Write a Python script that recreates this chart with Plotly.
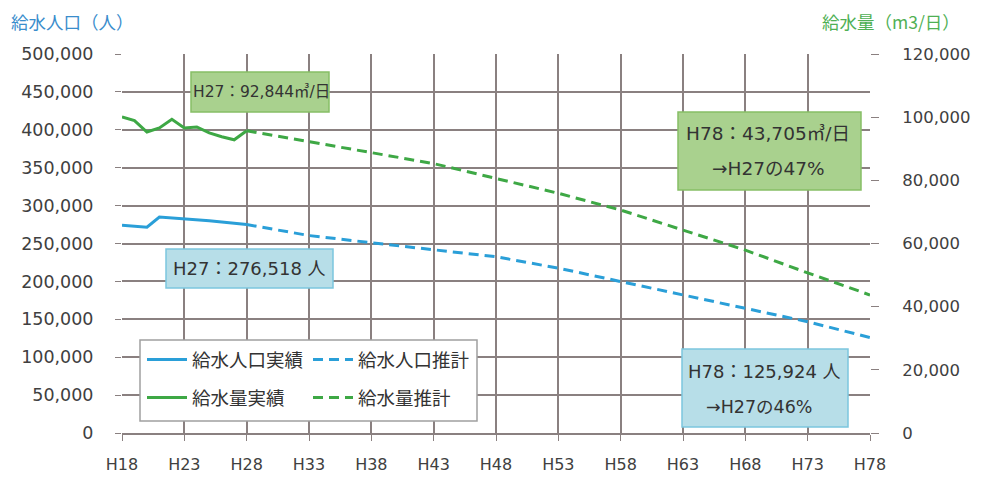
import plotly.graph_objects as go

# ---- data ----
years_actual = [18, 19, 20, 21, 22, 23, 24, 25, 26, 27, 28]
pop_actual = [274000, 273000, 271500, 285000, 284000, 283000, 281500, 280000, 278300, 276518, 275000]
water_actual = [100100, 98900, 95300, 96600, 99300, 96600, 96900, 95000, 93800, 92844, 95700]

years_proj = [28, 33, 38, 43, 48, 53, 58, 63, 68, 73, 78]
pop_proj = [275000, 260500, 251000, 242000, 232500, 217500, 200000, 182000, 164500, 146800, 125924]
water_proj = [95700, 92300, 88800, 85300, 80600, 75900, 70600, 64300, 57900, 50700, 43705]

x_ticks = [18, 23, 28, 33, 38, 43, 48, 53, 58, 63, 68, 73, 78]
x_tick_labels = ["H" + str(v) for v in x_ticks]

BLUE = "#2A9FD8"
GREEN = "#3EA845"
NUM_FONT = "DejaVu Sans"
JP_FONT = "Noto Sans CJK JP"
TXT = "#404040"
GRID = "#8a8080"

# page offset (body margin) and plot area in reference pixels
OFF = 8
RL, RR, RT, RB = 122, 870, 54, 433
W, H = 982, 478


def px(x):
    return (x - RL) / (RR - RL)


def py(y):
    return (RB - y) / (RB - RT)


fig = go.Figure()
fig.add_trace(go.Scatter(x=years_actual, y=pop_actual, mode="lines", name="給水人口実績",
                         line=dict(color=BLUE, width=3), legend="legend", legendgroup="a"))
fig.add_trace(go.Scatter(x=years_actual, y=water_actual, mode="lines", name="給水量実績", yaxis="y2",
                         line=dict(color=GREEN, width=3), legend="legend", legendgroup="b"))
fig.add_trace(go.Scatter(x=years_proj, y=pop_proj, mode="lines", name="給水人口推計",
                         line=dict(color=BLUE, width=3, dash="10px,6px"), legend="legend2", legendgroup="c"))
fig.add_trace(go.Scatter(x=years_proj, y=water_proj, mode="lines", name="給水量推計", yaxis="y2",
                         line=dict(color=GREEN, width=3, dash="10px,6px"), legend="legend2", legendgroup="d"))

shapes = []
annotations = []

# legend box
shapes.append(dict(type="rect", xref="paper", yref="paper", x0=px(140), x1=px(477), y0=py(421), y1=py(340),
                   line=dict(color="#a0a0a0", width=1.5), fillcolor="white", layer="above"))


def box(x0, x1, y0, y1, fill, border):
    shapes.append(dict(type="rect", xref="paper", yref="paper", x0=px(x0), x1=px(x1), y0=py(y1), y1=py(y0),
                       line=dict(color=border, width=1.5), fillcolor=fill, layer="above"))


def text(xc, yc, s, size=16):
    annotations.append(dict(xref="paper", yref="paper", x=px(xc), y=py(yc), text=s, showarrow=False,
                            xanchor="center", yanchor="middle",
                            font=dict(family=NUM_FONT + ", " + JP_FONT, size=size, color="#333333")))


G_FILL, G_BORDER = "#A9D18E", "#86BE66"
B_FILL, B_BORDER = "#B7DEE8", "#7CC6DE"

box(191, 329, 72, 112, G_FILL, G_BORDER)
text(261, 92, "H27：92,844㎥/日", 15.5)

box(678, 861, 112, 190, G_FILL, G_BORDER)
text(768, 133, "H78：43,705㎥/日", 18.5)
text(768, 168, "→H27の47%", 18.5)

box(166, 333, 249, 288, B_FILL, B_BORDER)
text(249, 268, "H27：276,518 人", 18)

box(682, 848, 349, 427, B_FILL, B_BORDER)
text(764, 371, "H78：125,924 人", 18)
text(759, 407, "→H27の46%", 17.5)

# axis titles
annotations.append(dict(xref="paper", yref="paper", x=px(9), y=py(22), text="給水人口（人）", showarrow=False,
                        xanchor="left", yanchor="middle",
                        font=dict(family=JP_FONT, size=17.5, color="#3A8DCC")))
annotations.append(dict(xref="paper", yref="paper", x=px(962), y=py(21), text="給水量（m3/日）", showarrow=False,
                        xanchor="right", yanchor="middle",
                        font=dict(family=JP_FONT, size=17.5, color="#4FB054")))

legend_common = dict(orientation="v", bgcolor="rgba(0,0,0,0)", borderwidth=0, tracegroupgap=11,
                     font=dict(family=JP_FONT, size=18.5, color="#333333"), xanchor="left", yanchor="top",
                     itemwidth=40)

fig.update_layout(
    width=W, height=H,
    margin=dict(l=RL - OFF, r=W - (RR - OFF), t=RT - OFF, b=H - (RB - OFF), autoexpand=False),
    paper_bgcolor="white", plot_bgcolor="white",
    showlegend=True,
    legend=dict(x=px(142), y=py(341), **legend_common),
    legend2=dict(x=px(308), y=py(341), **legend_common),
    xaxis=dict(range=[18, 78], tickvals=x_ticks, ticktext=x_tick_labels, automargin=False,
               showgrid=True, gridcolor=GRID, gridwidth=1.5,
               showline=True, linecolor=GRID, linewidth=1.5,
               ticks="outside", ticklen=6, tickcolor=GRID, ticklabelstandoff=10,
               tickfont=dict(family=NUM_FONT, size=16, color=TXT), zeroline=False),
    yaxis=dict(range=[0, 500000], dtick=50000, tickformat=",d", automargin=False,
               showgrid=True, gridcolor=GRID, gridwidth=1.5, zeroline=False,
               ticks="outside", ticklen=6, tickcolor=GRID, ticklabelstandoff=18,
               tickfont=dict(family=NUM_FONT, size=17.5, color=TXT)),
    yaxis2=dict(range=[0, 120000], dtick=20000, tickformat=",d", overlaying="y", side="right",
                automargin=False,
                showgrid=False, zeroline=False, ticks="outside", ticklen=8, tickcolor=GRID,
                ticklabelstandoff=20,
                tickfont=dict(family=NUM_FONT, size=16.5, color=TXT)),
    shapes=shapes,
    annotations=annotations,
)

fig.write_html("out.html")
